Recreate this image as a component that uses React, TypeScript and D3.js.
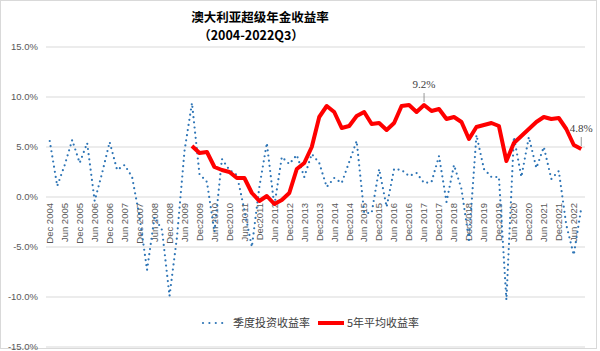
import * as d3 from 'd3';

// quarterly returns (%), Dec 2004 .. Sep 2022
const quarterly = [
  5.6, 1.1, 3.2, 5.7, 3.4, 5.4, -0.4, 2.4, 5.5, 2.7, 3.2, 2.0,
  -2.0, -7.3, -2.0, -3.3, -9.9, -4.0, 4.6, 9.4, 2.3, 1.5, -3.5, 3.8,
  2.7, 2.2, -1.3, -5.0, 1.0, 5.4, -0.9, 4.0, 3.3, 4.2, 2.0, 4.3,
  3.4, 1.0, 1.9, 1.4, 3.5, 5.6, -1.6, -1.6, 2.8, -1.0, 2.8, 2.7,
  2.1, 2.4, 1.4, 1.5, 4.1, -0.5, 3.2, 0.8, -4.3, 6.2, 2.8, 2.0,
  2.0, -10.3, 6.0, 2.0, 6.0, 2.9, 5.0, 1.8, 2.6, -2.8, -5.8, -1.1,
];

// 5-year average return (%), starts Sep 2009
const avg5y: (number | null)[] = [
  null, null, null, null, null, null, null, null, null, null, null, null,
  null, null, null, null, null, null, null, 5.1, 4.4, 4.5, 3.0, 2.7,
  2.5, 1.9, 1.9, 0.4, -0.4, 0.1, -0.7, -0.3, 0.4, 2.8, 3.4, 5.0,
  8.0, 9.1, 8.5, 6.9, 7.1, 8.1, 8.5, 7.3, 7.4, 6.7, 7.4, 9.1,
  9.2, 8.5, 9.2, 8.6, 8.8, 7.8, 8.0, 7.5, 5.8, 7.0, 7.2, 7.4,
  7.1, 3.6, 5.4, 6.1, 6.8, 7.5, 8.0, 7.8, 7.9, 6.8, 5.2, 4.8,
];

// shown every second quarter, from Dec 2004
const tickLabels = [
  'Dec 2004', 'Jun 2005', 'Dec 2005', 'Jun 2006', 'Dec 2006', 'Jun 2007',
  'Dec 2007', 'Jun 2008', 'Dec 2008', 'Jun 2009', 'Dec2009', 'Jun 2010',
  'Dec2010', 'Jun 2011', 'Dec2011', 'Jun 2012', 'Dec2012', 'Jun 2013',
  'Dec2013', 'Jun 2014', 'Dec2014', 'Jun 2015', 'Dec2015', 'Jun 2016',
  'Dec2016', 'Jun 2017', 'Dec2017', 'Jun 2018', 'Dec2018', 'Jun 2019',
  'Dec2019', 'Jun 2020', 'Dec2020', 'Jun 2021', 'Dec2021', 'Jun 2022',
];

const yTicks = [15, 10, 5, 0, -5, -10, -15];
const labelled = [50, 71]; // points of the average series with a data label

const seriesNames = ['季度投资收益率', '5年平均收益率'];

export default function App() {
  const width = 600;
  const height = 351;

  const x = d3.scaleBand<number>()
    .domain(d3.range(quarterly.length))
    .range([46, 585]);
  const cx = (i: number) => (x(i) as number) + x.bandwidth() / 2;

  const y = d3.scaleLinear().domain([-15, 15]).range([347, 47]);

  const quarterLine = d3.line<number>()
    .x((_, i) => cx(i))
    .y(d => y(d));

  const avgLine = d3.line<number | null>()
    .defined(d => d != null)
    .x((_, i) => cx(i))
    .y(d => y(d as number));

  const sans = '"Liberation Sans", Arial, sans-serif';
  const cjk = '"Noto Sans CJK SC", "Noto Sans", sans-serif';

  return (
    <svg width={width} height={height} style={{ position: 'absolute', left: 0, top: 0 }}>
      <rect x={0.5} y={0.5} width={596} height={348} fill="#fff" stroke="#d9d9d9" />

      <text x={260} y={22} textAnchor="middle" fontFamily={cjk} fontSize={12.5} fontWeight="bold" fill="#000">
        澳大利亚超级年金收益率
      </text>
      <text x={251} y={39.5} textAnchor="middle" fontFamily={cjk} fontSize={12.5} fontWeight="bold" fill="#000">
        （2004-2022Q3）
      </text>

      {yTicks.map(t => (
        <g key={t}>
          <line x1={46} x2={585} y1={y(t)} y2={y(t)} stroke="#d9d9d9" strokeWidth={1} />
          <text x={38} y={y(t)} dy="0.35em" textAnchor="end" fontFamily={sans} fontSize={9.5} fill="#595959">
            {t.toFixed(1)}%
          </text>
        </g>
      ))}

      {tickLabels.map((lab, k) => {
        const px = cx(k * 2);
        return (
          <text key={lab} x={px} y={203} dy="0.35em" textAnchor="end"
            transform={`rotate(-90, ${px}, 203)`}
            fontFamily={sans} fontSize={9.5} fill="#595959">
            {lab}
          </text>
        );
      })}

      <path d={quarterLine(quarterly) || ''} fill="none" stroke="#2E75B6" strokeWidth={2.2}
        strokeDasharray="0 5.2" strokeLinecap="round" strokeLinejoin="round" />
      <path d={avgLine(avg5y) || ''} fill="none" stroke="#FF0000" strokeWidth={4}
        strokeLinejoin="round" />

      {labelled.map(i => {
        const v = avg5y[i] as number;
        return (
          <g key={i}>
            <line x1={cx(i)} x2={cx(i)} y1={y(v) - 3} y2={y(v) - 12} stroke="#7f7f7f" strokeWidth={0.8} />
            <text x={cx(i)} y={y(v) - 17} textAnchor="middle" fontFamily='"Liberation Serif", serif'
              fontSize={11} fill="#404040">
              {v.toFixed(1)}%
            </text>
          </g>
        );
      })}

      <line x1={203} x2={224} y1={323} y2={323} stroke="#2E75B6" strokeWidth={2.2}
        strokeDasharray="0 6.4" strokeLinecap="round" />
      <text x={233} y={323} dy="0.35em" fontFamily={cjk} fontSize={11} fill="#404040">{seriesNames[0]}</text>
      <line x1={318} x2={344} y1={323} y2={323} stroke="#FF0000" strokeWidth={4} />
      <text x={347} y={323} dy="0.35em" fontFamily={cjk} fontSize={11} fill="#404040">{seriesNames[1]}</text>
    </svg>
  );
}
